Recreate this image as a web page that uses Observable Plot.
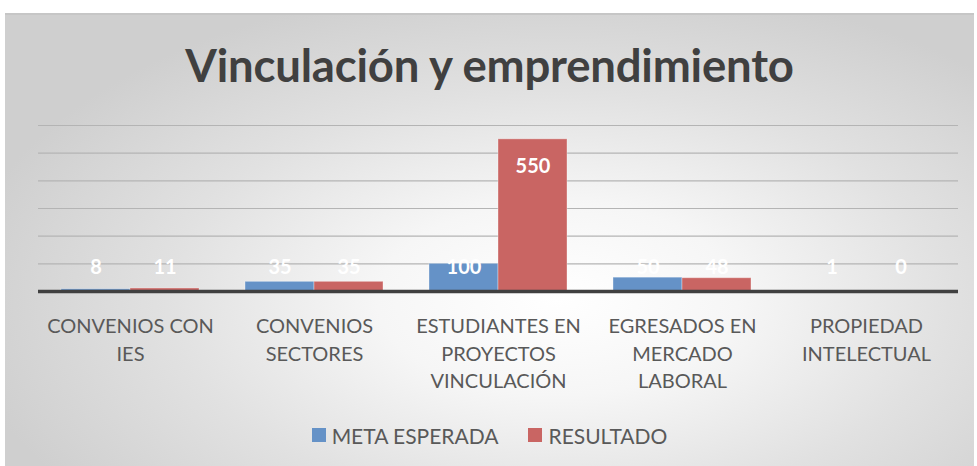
<!DOCTYPE html>
<html>
<head>
<meta charset="utf-8">
<script src="https://cdn.jsdelivr.net/npm/d3@7"></script>
<script src="https://cdn.jsdelivr.net/npm/@observablehq/plot@0.6"></script>
<style>
  html, body { margin: 0; padding: 0; background: #ffffff; width: 977px; height: 466px; overflow: hidden; }
  #frame {
    position: absolute; left: 5px; top: 13px; width: 969px; height: 460px;
    border-top: 2px solid #c6c6c6;
    box-sizing: border-box;
    background: radial-gradient(ellipse 62% 70% at 57% 62%, #ffffff 0%, #f6f6f6 30%, #e1e1e1 65%, #cfcfcf 100%);
    font-family: Lato, "Open Sans", sans-serif;
  }
  #title {
    position: absolute; left: 0; top: 7px; width: 969px; height: 85px;
    text-align: center; font-weight: 700; font-size: 45.5px; line-height: 85px;
    color: #404040; letter-spacing: -0.2px;
  }
  #chart { position: absolute; left: 0; top: 85px; }
  #legend {
    position: absolute; left: 0; top: 398px; width: 969px; height: 44px;
    display: flex; justify-content: center; align-items: center; gap: 30px;
    font-size: 21px; color: #595959;
  }
  #legend .item { display: flex; align-items: center; gap: 6px; }
  #legend .sw { width: 14px; height: 14px; display: inline-block; }
</style>
</head>
<body>
<div id="frame">
  <div id="title"></div>
  <div id="chart"></div>
  <div id="legend"></div>
</div>
<script>
// ---- data ----
const titleText = "Vinculación y emprendimiento";
const categories = [
  "CONVENIOS CON IES",
  "CONVENIOS SECTORES",
  "ESTUDIANTES EN PROYECTOS VINCULACIÓN",
  "EGRESADOS EN MERCADO LABORAL",
  "PROPIEDAD INTELECTUAL"
];
const tickLabels = [
  "CONVENIOS CON\nIES",
  "CONVENIOS\nSECTORES",
  "ESTUDIANTES EN\nPROYECTOS\nVINCULACIÓN",
  "EGRESADOS EN\nMERCADO\nLABORAL",
  "PROPIEDAD\nINTELECTUAL"
];
const seriesNames = ["META ESPERADA", "RESULTADO"];
const metaEsperada = [8, 35, 100, 50, 1];
const resultado = [11, 35, 550, 48, 0];
const seriesColors = ["#6592C7", "#C96563"];
const gridValues = [100, 200, 300, 400, 500, 600];

// ---- build ----
const rows = [];
categories.forEach((c, i) => {
  rows.push({cat: c, series: seriesNames[0], value: metaEsperada[i]});
  rows.push({cat: c, series: seriesNames[1], value: resultado[i]});
});
const labelFor = new Map(categories.map((c, i) => [c, tickLabels[i]]));

document.getElementById("title").textContent = titleText;

const chart = Plot.plot({
  width: 969,
  height: 315,
  marginLeft: 33,
  marginRight: 16,
  marginTop: 25,
  marginBottom: 124,
  style: {background: "transparent", fontFamily: "Lato, 'Open Sans', sans-serif", overflow: "visible"},
  fx: {domain: categories, padding: 0},
  x: {domain: seriesNames, paddingInner: 0, paddingOuter: 0.333, axis: null},
  y: {domain: [0, 600], axis: null},
  color: {domain: seriesNames, range: seriesColors},
  marks: [
    Plot.ruleY(gridValues, {stroke: "#b4b4b4", strokeWidth: 1.2}),
    Plot.barY(rows, {fx: "cat", x: "series", y: "value", fill: "series",
      stroke: "#ffffff", strokeOpacity: 0.35, strokeWidth: 1, inset: 0}),
    Plot.ruleY([0], {stroke: "#404040", strokeWidth: 3.5}),
    Plot.text(rows, {fx: "cat", x: "series",
      y: d => Math.max(d.value - 100, 87),
      text: d => String(d.value),
      fill: "#ffffff", fontWeight: "bold", fontSize: 20}),
    Plot.axisFx({anchor: "bottom", tickSize: 0, tickPadding: 22, label: null,
      tickFormat: d => labelFor.get(d), fontSize: 20, lineHeight: 1.38, fill: "#595959"})
  ]
});
document.getElementById("chart").appendChild(chart);

const legend = document.getElementById("legend");
seriesNames.forEach((s, i) => {
  const item = document.createElement("span");
  item.className = "item";
  const sw = document.createElement("span");
  sw.className = "sw";
  sw.style.background = seriesColors[i];
  const t = document.createElement("span");
  t.textContent = s;
  item.appendChild(sw); item.appendChild(t);
  legend.appendChild(item);
});
</script>
</body>
</html>
